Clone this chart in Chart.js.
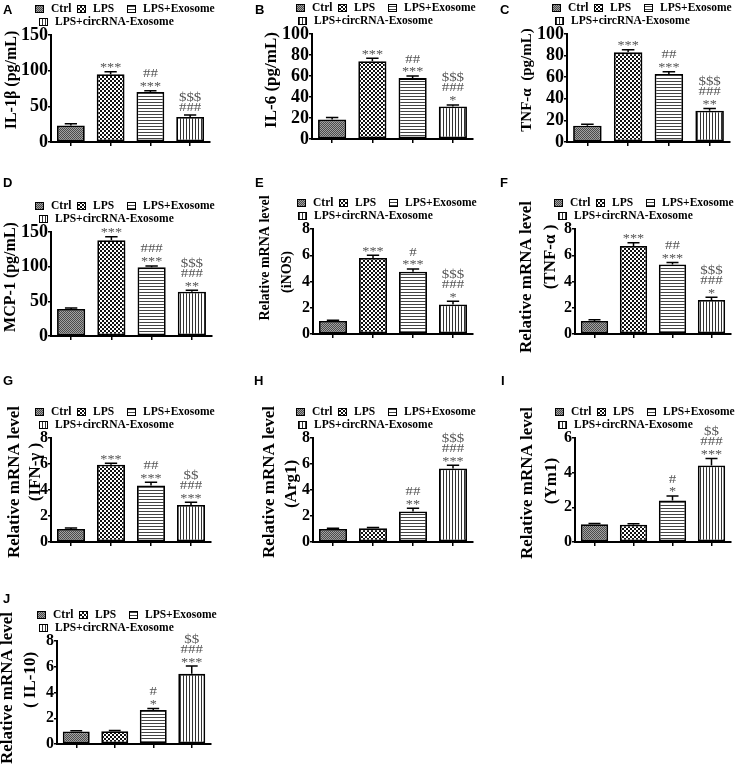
<!DOCTYPE html>
<html>
<head>
<meta charset="utf-8">
<title>Cytokine panels</title>
<script src="https://cdn.jsdelivr.net/npm/chart.js@4.4.1/dist/chart.umd.min.js"></script>
<style>
  body { margin: 0; background: #fff; }
  #page { position: relative; width: 736px; height: 765px; overflow: hidden; }
  #page canvas { position: absolute; }
</style>
</head>
<body>
<div id="page"></div>
<script>
var groups = ['Ctrl', 'LPS', 'LPS+Exosome', 'LPS+circRNA-Exosome'];

// A  IL-1β (pg/mL)
var il1bMeans = [23, 95, 70, 35];
var il1bSem = [2.5, 3.5, 2, 3];
var il1bMarks = [[], ['***'], ['***', '##'], ['###', '$$$']];

// B  IL-6 (pg/mL)
var il6Means = [18.5, 74, 58, 31];
var il6Sem = [2, 3, 2, 1.5];
var il6Marks = [[], ['***'], ['***', '##'], ['*', '###', '$$$']];

// C  TNF-α (pg/mL)
var tnfMeans = [15, 83, 63, 29];
var tnfSem = [1.5, 2.5, 2, 2];
var tnfMarks = [[], ['***'], ['***', '##'], ['**', '###', '$$$']];

// D  MCP-1 (pg/mL)
var mcpMeans = [39, 138, 99, 64];
var mcpSem = [1.5, 5, 2, 2];
var mcpMarks = [[], ['***'], ['***', '###'], ['**', '###', '$$$']];

// E  iNOS mRNA
var inosMeans = [1.0, 5.8, 4.75, 2.25];
var inosSem = [0.05, 0.2, 0.2, 0.25];
var inosMarks = [[], ['***'], ['***', '#'], ['*', '###', '$$$']];

// F  TNF-α mRNA
var tnfRnaMeans = [1.0, 6.7, 5.3, 2.6];
var tnfRnaSem = [0.08, 0.25, 0.15, 0.2];
var tnfRnaMarks = [[], ['***'], ['***', '##'], ['*', '###', '$$$']];

// G  IFN-γ mRNA
var ifnMeans = [1.0, 5.95, 4.35, 2.85];
var ifnSem = [0.07, 0.1, 0.25, 0.2];
var ifnMarks = [[], ['***'], ['***', '##'], ['***', '###', '$$']];

// H  Arg1 mRNA
var arg1Means = [1.0, 1.05, 2.35, 5.65];
var arg1Sem = [0.05, 0.07, 0.25, 0.25];
var arg1Marks = [[], [], ['**', '##'], ['***', '###', '$$$']];

// I  Ym1 mRNA
var ym1Means = [1.02, 1.0, 2.4, 4.42];
var ym1Sem = [0.05, 0.05, 0.25, 0.4];
var ym1Marks = [[], [], ['*', '#'], ['***', '###', '$$']];

// J  IL-10 mRNA
var il10Means = [0.98, 1.0, 2.65, 5.45];
var il10Sem = [0.05, 0.05, 0.1, 0.6];
var il10Marks = [[], [], ['*', '#'], ['***', '###', '$$']];

var cols = [{x: 0, w: 245}, {x: 245, w: 245}, {x: 490, w: 246}];
var rows = [{y: 0, h: 172}, {y: 172, h: 198}, {y: 370, h: 218}, {y: 588, h: 177}];

var panels = [
  {letter: 'A', lx: 3, ly: 6, col: 0, row: 0, axisX: 51, top: 35, bottom: 142, right: 210, legendX: [35, 39],
   max: 150, step: 50, tickSize: 18, titleSize: 16, titles: [['IL-1β (pg/mL)', 12, 80]],
   means: il1bMeans, sem: il1bSem, marks: il1bMarks},
  {letter: 'B', lx: 255, ly: 6, col: 1, row: 0, axisX: 312, top: 34, bottom: 139, right: 473, legendX: [296, 298],
   max: 100, step: 20, tickSize: 18, titleSize: 17, titles: [['IL-6 (pg/mL)', 272, 80]],
   means: il6Means, sem: il6Sem, marks: il6Marks},
  {letter: 'C', lx: 500, ly: 6, col: 2, row: 0, axisX: 567, top: 34, bottom: 142, right: 730, legendX: [552, 555],
   max: 100, step: 20, tickSize: 18, titleSize: 15, titles: [['TNF-α  (pg/mL)', 527, 80]],
   means: tnfMeans, sem: tnfSem, marks: tnfMarks},
  {letter: 'D', lx: 3, ly: 179, col: 0, row: 1, axisX: 51, top: 232, bottom: 336, right: 212, legendX: [35, 39],
   max: 150, step: 50, tickSize: 18, titleSize: 16, titles: [['MCP-1 (pg/mL)', 11, 277]],
   means: mcpMeans, sem: mcpSem, marks: mcpMarks},
  {letter: 'E', lx: 255, ly: 179, col: 1, row: 1, axisX: 313, top: 229, bottom: 334, right: 473, legendX: [297, 298],
   max: 8, step: 2, tickSize: 16, titleSize: 14, titles: [['Relative mRNA level', 265, 258], ['(iNOS)', 287, 272]],
   means: inosMeans, sem: inosSem, marks: inosMarks},
  {letter: 'F', lx: 500, ly: 179, col: 2, row: 1, axisX: 575, top: 229, bottom: 334, right: 731, legendX: [554, 558],
   max: 8, step: 2, tickSize: 16, titleSize: 17, titles: [['Relative mRNA level', 527, 277], ['(TNF-α )', 551, 257]],
   means: tnfRnaMeans, sem: tnfRnaSem, marks: tnfRnaMarks},
  {letter: 'G', lx: 3, ly: 377, col: 0, row: 2, axisX: 51, top: 438, bottom: 542, right: 211, legendX: [35, 39],
   max: 8, step: 2, tickSize: 16, titleSize: 17, titles: [['Relative mRNA level', 15, 482], ['(IFN-γ )', 36, 472]],
   means: ifnMeans, sem: ifnSem, marks: ifnMarks},
  {letter: 'H', lx: 254, ly: 377, col: 1, row: 2, axisX: 313, top: 438, bottom: 542, right: 473, legendX: [296, 298],
   max: 8, step: 2, tickSize: 16, titleSize: 17, titles: [['Relative mRNA level', 270, 482], ['(Arg1)', 292, 484]],
   means: arg1Means, sem: arg1Sem, marks: arg1Marks},
  {letter: 'I', lx: 501, ly: 377, col: 2, row: 2, axisX: 575, top: 438, bottom: 542, right: 731, legendX: [555, 558],
   max: 6, step: 2, tickSize: 16, titleSize: 17, titles: [['Relative mRNA level', 528, 483], ['(Ym1)', 552, 481]],
   means: ym1Means, sem: ym1Sem, marks: ym1Marks},
  {letter: 'J', lx: 3, ly: 595, col: 0, row: 3, axisX: 57, top: 641, bottom: 744, right: 211, legendX: [37, 39],
   max: 8, step: 2, tickSize: 16, titleSize: 17, titles: [['Relative mRNA level', 8, 688], ['( IL-10)', 31, 680]],
   means: il10Means, sem: il10Sem, marks: il10Marks}
];

// small tiled fills standing in for the print hatch patterns
function makeTile(w, h, paint) {
  var c = document.createElement('canvas');
  c.width = w; c.height = h;
  var g = c.getContext('2d');
  paint(g);
  return g.createPattern(c, 'repeat');
}
var fills = [
  makeTile(2, 2, function(g) {
    g.fillStyle = '#a2a2a2'; g.fillRect(0, 0, 2, 2);
    g.fillStyle = '#4a4a4a'; g.fillRect(0, 0, 1, 1); g.fillRect(1, 1, 1, 1);
  }),
  makeTile(4, 4, function(g) {
    g.fillStyle = '#111'; g.fillRect(0, 0, 4, 4);
    g.fillStyle = '#fff'; g.fillRect(0, 0, 2, 2); g.fillRect(2, 2, 2, 2);
  }),
  makeTile(1, 3, function(g) {
    g.fillStyle = '#fff'; g.fillRect(0, 0, 1, 3);
    g.fillStyle = '#444'; g.fillRect(0, 0, 1, 1);
  }),
  makeTile(3, 1, function(g) {
    g.fillStyle = '#fff'; g.fillRect(0, 0, 3, 1);
    g.fillStyle = '#333'; g.fillRect(0, 0, 1, 1);
  })
];

// error bars (upper half only) and the significance marks above them
var barExtras = {
  id: 'barExtras',
  afterDatasetsDraw: function(chart) {
    var ctx = chart.ctx, y = chart.scales.y;
    var ds = chart.data.datasets[0];
    chart.getDatasetMeta(0).data.forEach(function(bar, i) {
      var top = y.getPixelForValue(ds.data[i] + ds.errors[i]);
      var half = bar.width * 0.22;
      ctx.save();
      ctx.strokeStyle = '#000';
      ctx.lineWidth = 1.5;
      ctx.beginPath();
      ctx.moveTo(bar.x, bar.y);
      ctx.lineTo(bar.x, top);
      ctx.moveTo(bar.x - half, top);
      ctx.lineTo(bar.x + half, top);
      ctx.stroke();
      ctx.fillStyle = '#555';
      ctx.textAlign = 'center';
      ctx.textBaseline = 'middle';
      ds.marks[i].forEach(function(m, k) {
        var cy = top - 6.5 - k * 10;
        var star = m.charAt(0) === '*';
        ctx.save();
        ctx.translate(bar.x, star ? cy + 2.5 : cy);
        ctx.scale(star ? 1.1 : 1.3, 1);
        ctx.font = (star ? 13 : 11.5) + 'px "Liberation Serif"';
        ctx.fillText(m, 0, 0);
        ctx.restore();
      });
      ctx.restore();
    });
  }
};

// panel letter, pattern legend and rotated y titles
var panelDeco = {
  id: 'panelDeco',
  afterDraw: function(chart, args, o) {
    var ctx = chart.ctx;
    var top = chart.chartArea.top;
    ctx.save();
    ctx.fillStyle = '#000';
    ctx.textAlign = 'left';
    ctx.textBaseline = 'top';
    ctx.font = 'bold 13px "Liberation Sans"';
    ctx.fillText(o.letter, o.lx - o.colX, o.ly - o.rowY - 2);

    var spots = [[o.legendX[0], top - 26], [o.legendX[0] + 42, top - 26], [o.legendX[0] + 92, top - 26], [o.legendX[1], top - 13]];
    var bg = chart.data.datasets[0].backgroundColor;
    ctx.font = 'bold 11.5px "Liberation Serif"';
    ctx.textBaseline = 'middle';
    ctx.lineWidth = 1;
    ctx.strokeStyle = '#000';
    chart.data.labels.forEach(function(label, i) {
      var bx = spots[i][0] - o.colX, by = spots[i][1];
      ctx.fillStyle = bg[i];
      ctx.fillRect(bx, by - 4, 9, 8);
      ctx.strokeRect(bx + 0.5, by - 3.5, 8, 7);
      ctx.fillStyle = '#000';
      ctx.fillText(label, bx + 16, by + 0.5);
    });

    ctx.font = 'bold ' + o.titleSize + 'px "Liberation Serif"';
    ctx.textAlign = 'center';
    o.titles.forEach(function(t) {
      ctx.save();
      ctx.translate(t[1] - o.colX, t[2] - o.rowY);
      ctx.rotate(-Math.PI / 2);
      ctx.fillText(t[0], 0, 0);
      ctx.restore();
    });
    ctx.restore();
  }
};

var page = document.getElementById('page');

function makePanel(p) {
  var col = cols[p.col], row = rows[p.row];
  var canvas = document.createElement('canvas');
  canvas.width = col.w;
  canvas.height = row.h;
  canvas.style.left = col.x + 'px';
  canvas.style.top = row.y + 'px';
  page.appendChild(canvas);

  new Chart(canvas, {
    type: 'bar',
    data: {
      labels: groups,
      datasets: [{
        data: p.means,
        errors: p.sem,
        marks: p.marks,
        backgroundColor: fills,
        borderColor: '#000',
        borderWidth: 1.8,
        borderSkipped: false,
        barPercentage: 0.7,
        categoryPercentage: 1
      }]
    },
    options: {
      responsive: false,
      animation: false,
      devicePixelRatio: 1,
      layout: {
        padding: {left: 0, top: p.top - row.y, right: col.x + col.w - p.right, bottom: row.y + row.h - p.bottom - 6}
      },
      plugins: {
        legend: {display: false},
        tooltip: {enabled: false},
        panelDeco: {letter: p.letter, lx: p.lx, ly: p.ly, colX: col.x, rowY: row.y, legendX: p.legendX,
                    titles: p.titles, titleSize: p.titleSize}
      },
      scales: {
        x: {
          ticks: {display: false},
          grid: {offset: false, drawOnChartArea: false, color: '#000', lineWidth: 1.5, tickLength: 4},
          border: {color: '#000', width: 2},
          afterFit: function(s) { s.height = 6; }
        },
        y: {
          min: 0,
          max: p.max,
          ticks: {stepSize: p.step, autoSkip: false, color: '#000', padding: 0,
                  font: {family: 'Liberation Serif', size: p.tickSize, weight: 'bold', lineHeight: 1}},
          grid: {drawOnChartArea: false, color: '#000', lineWidth: 1.5, tickLength: 3},
          border: {color: '#000', width: 2},
          afterFit: function(s) { s.width = p.axisX - col.x; }
        }
      }
    },
    plugins: [barExtras, panelDeco]
  });
}

panels.forEach(makePanel);
</script>
</body>
</html>
